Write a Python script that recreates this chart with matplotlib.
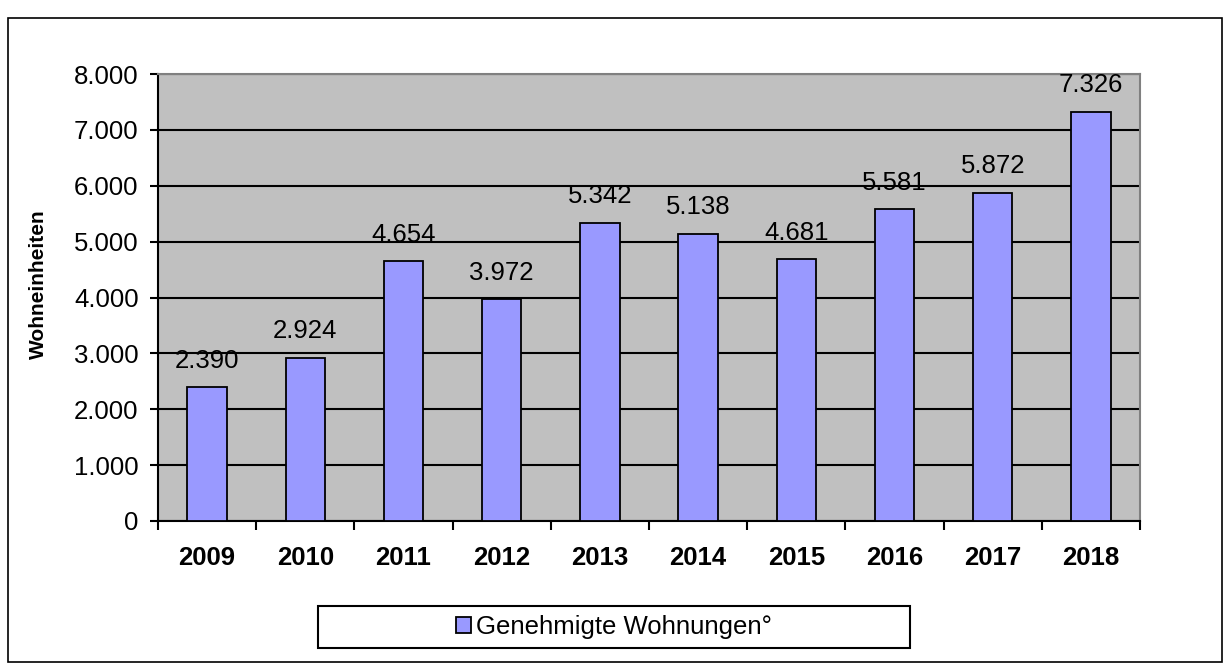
import matplotlib
matplotlib.use("Agg")
import matplotlib.pyplot as plt
from matplotlib.patches import Rectangle, Patch
from matplotlib.ticker import FuncFormatter, MultipleLocator

plt.rcParams['font.family'] = ['Liberation Sans', 'DejaVu Sans']

years = ['2009', '2010', '2011', '2012', '2013', '2014', '2015', '2016', '2017', '2018']
values = [2390, 2924, 4654, 3972, 5342, 5138, 4681, 5581, 5872, 7326]
series_name = 'Genehmigte Wohnungen°'
y_label = 'Wohneinheiten'

FS = 18.5
W, H = 1230, 664
fig = plt.figure(figsize=(W / 100, H / 100), dpi=100)

# outer border
fig.patches.append(Rectangle((8 / W, 2 / H), (1222 - 8) / W, (662 - 18) / H,
                             transform=fig.transFigure, fill=False,
                             edgecolor='black', linewidth=1.2))

ax = fig.add_axes([158 / W, 1 - 521 / H, (1140 - 158) / W, (521 - 74) / H])
ax.set_facecolor('#C0C0C0')

x = list(range(len(years)))
ax.bar(x, values, width=0.4, color='#9999FF', edgecolor='black', linewidth=1.3, zorder=3)

def fmt(v, pos=None):
    return f'{int(round(v)):,}'.replace(',', '.')

for xi, v in zip(x, values):
    ax.annotate(fmt(v), (xi, v), xytext=(0, 14), textcoords='offset points',
                ha='center', va='baseline', fontsize=FS, zorder=4)

ax.set_xlim(-0.5, len(years) - 0.5)
ax.set_ylim(0, 8000)
ax.yaxis.set_major_locator(MultipleLocator(1000))
ax.yaxis.set_major_formatter(FuncFormatter(fmt))
ax.grid(axis='y', color='black', linewidth=1.5, zorder=1)
ax.set_axisbelow(True)

# x ticks at category boundaries, labels at centers
ax.set_xticks([i - 0.5 for i in range(len(years) + 1)])
ax.set_xticklabels([])
ax.set_xticks(x, minor=True)
ax.set_xticklabels(years, minor=True, fontweight='bold', fontsize=FS)
ax.tick_params(axis='x', which='minor', length=0, pad=18)
ax.tick_params(axis='x', which='major', direction='out', length=6.5, width=1.5)
ax.tick_params(axis='y', direction='out', length=6, width=1.5, labelsize=FS, pad=8)

for s in ['left', 'bottom']:
    ax.spines[s].set_color('black')
    ax.spines[s].set_linewidth(1.5)
for s in ['top', 'right']:
    ax.spines[s].set_color('#808080')
    ax.spines[s].set_linewidth(1.5)

fig.text(38 / W, 1 - 284 / H, y_label, rotation=90, ha='center', va='center',
         fontweight='bold', fontsize=15)

# legend box
fig.patches.append(Rectangle((318 / W, 1 - 648 / H), (910 - 318) / W, (648 - 606) / H,
                             transform=fig.transFigure, fill=True, facecolor='white',
                             edgecolor='black', linewidth=1.5, zorder=5))
handle = Patch(facecolor='#9999FF', edgecolor='black', linewidth=1.3)
fig.legend([handle], [series_name], loc='center', bbox_to_anchor=(614 / W, 1 - 627 / H),
           frameon=False, fontsize=FS, handlelength=0.6, handleheight=0.6,
           handletextpad=0.2, borderpad=0)

fig.savefig('out.png', dpi=100)
